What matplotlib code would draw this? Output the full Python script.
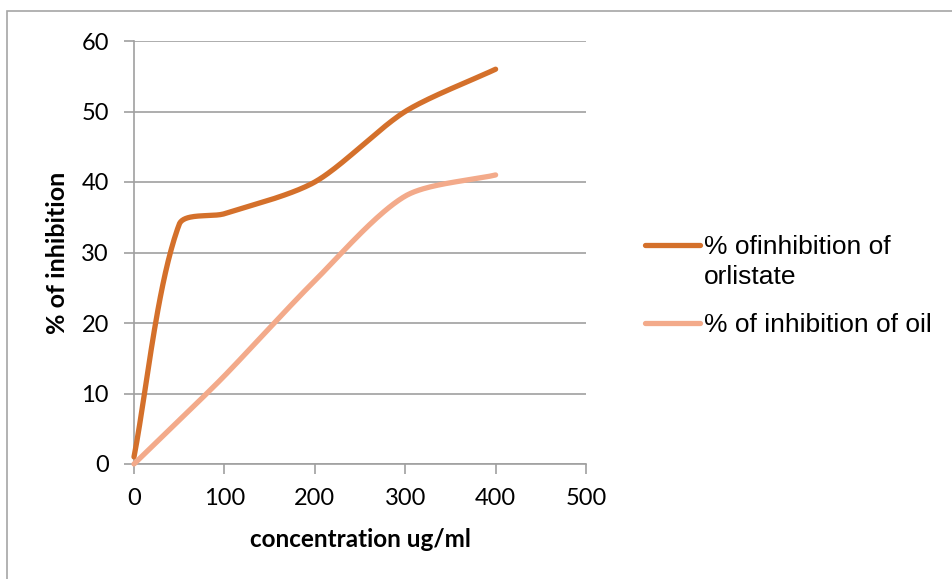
import numpy as np
import matplotlib
matplotlib.use("Agg")
import matplotlib.pyplot as plt
from matplotlib.lines import Line2D
from matplotlib.patches import Rectangle

# data
conc = [0, 50, 100, 200, 300, 400]
orlistat = [1, 34, 35.5, 40, 50, 56]
oil = [0, 6.2, 12.5, 26, 38, 41]
labels = ["% ofinhibition of\norlistate", "% of inhibition of oil"]
colors = ["#d4702b", "#f3aa8a"]

W, H = 953, 579


def smooth(x, y, sx, sy, n=40, k=0.27):
    """Excel-like smoothed line: bezier through the points, tangent length tied to segment length."""
    P = np.column_stack([np.asarray(x, float) * sx, np.asarray(y, float) * sy])
    Pext = np.vstack([P[0], P, P[-1]])
    tang = Pext[2:] - Pext[:-2]
    tang = tang / np.linalg.norm(tang, axis=1)[:, None]
    out = []
    t = np.linspace(0, 1, n)[:, None]
    for i in range(len(P) - 1):
        p0, p1 = P[i], P[i + 1]
        L = np.linalg.norm(p1 - p0)
        c1 = p0 + tang[i] * L * k
        c2 = p1 - tang[i + 1] * L * k
        seg = ((1 - t) ** 3) * p0 + 3 * ((1 - t) ** 2) * t * c1 + 3 * (1 - t) * t ** 2 * c2 + t ** 3 * p1
        out.append(seg)
    out = np.vstack(out)
    return out[:, 0] / sx, out[:, 1] / sy


fig = plt.figure(figsize=(W / 100, H / 100), dpi=100)

# chart frame
fig.add_artist(Rectangle((7 / W, -0.1), 1.1, 1 - 11 / H + 0.1, transform=fig.transFigure,
                         fill=False, edgecolor="#a6a6a6", lw=1.2))

ax = fig.add_axes([134 / W, (H - 464) / H, 452 / W, 423 / H])
ax.set_xlim(0, 500)
ax.set_ylim(0, 60)

sx, sy = 452 / 500, 423 / 60
for ys, c in zip([orlistat, oil], colors):
    xs_s, ys_s = smooth(conc, ys, sx, sy)
    ax.plot(xs_s, ys_s, color=c, lw=3.8, solid_capstyle="round", zorder=3, clip_on=False)

ax.set_xticks(range(0, 501, 100))
ax.set_yticks(range(0, 61, 10))
ax.grid(axis="y", color="#a0a0a0", lw=1.2)
ax.set_axisbelow(True)
for s in ["top", "right"]:
    ax.spines[s].set_visible(False)
for s in ["left", "bottom"]:
    ax.spines[s].set_color("#a0a0a0")
    ax.spines[s].set_linewidth(1.2)
ax.tick_params(axis="both", colors="#a0a0a0", length=7, width=1.2, labelcolor="black",
               labelsize=17)
ax.tick_params(axis="x", pad=10)
ax.tick_params(axis="y", pad=11)
for lab in ax.get_xticklabels() + ax.get_yticklabels():
    lab.set_fontfamily("Lato")

ax.set_xlabel("concentration ug/ml", fontfamily="Lato", fontweight="bold", fontsize=17.5,
              labelpad=14)
ax.set_ylabel("% of inhibition", fontfamily="Lato", fontweight="bold", fontsize=18,
              labelpad=9)

# legend drawn by hand to match placement
leg_y = [245, 323]
for lab, c, ly in zip(labels, colors, leg_y):
    fig.add_artist(Line2D([645 / W, 700 / W], [1 - ly / H, 1 - ly / H], color=c, lw=3.8,
                          solid_capstyle="round", transform=fig.transFigure))
    fig.text(704 / W, 1 - (ly - 10) / H, lab, fontfamily="Liberation Sans", fontsize=19,
             va="top", ha="left", linespacing=1.33)

fig.savefig("out.png", dpi=100)
